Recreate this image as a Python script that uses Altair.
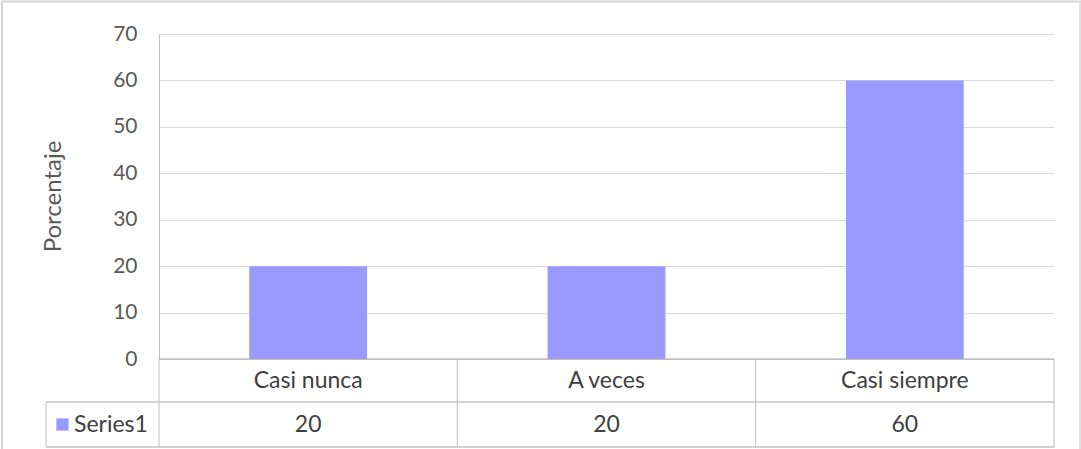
import altair as alt
import pandas as pd

# Survey responses (percentage per answer)
categories = ["Casi nunca", "A veces", "Casi siempre"]
values = [20, 20, 60]
series_name = "Series1"
y_ticks = [0, 10, 20, 30, 40, 50, 60, 70]
y_title = "Porcentaje"

BAR = "#9999FF"
GRID = "#D9D9D9"
LINE = "#A6A6A6"
VLINE = "#BDBDBD"
TEXT = "#404040"
TICK_TEXT = "#595959"
FONT = "Lato"
TABLE_SIZE = 23

W, H = 895, 325          # plot area
ROW1_MID, ROW2_TOP, ROW2_MID, TABLE_BOTTOM = 346.5, 368, 390.5, 413
LEGEND_LEFT = -113

df = pd.DataFrame({"cat": categories, "val": values})
one = pd.DataFrame({"k": [0]})

x_enc = alt.X("cat:N", sort=categories,
              scale=alt.Scale(paddingInner=0, paddingOuter=0), axis=None)

bars = alt.Chart(df).mark_bar(color=BAR, width=alt.RelativeBandSize(0.395)).encode(
    x=x_enc,
    y=alt.Y("val:Q", scale=alt.Scale(domain=[0, 70], nice=False),
            axis=alt.Axis(values=y_ticks, grid=True, gridColor=GRID, gridWidth=1,
                          domainColor=VLINE, domainWidth=1, ticks=False,
                          labelPadding=22, labelFontSize=21, labelColor=TICK_TEXT,
                          labelFont=FONT, title=None)),
)

# Data table: category row and value row
cat_text = alt.Chart(df).mark_text(fontSize=TABLE_SIZE, font=FONT, color=TEXT, baseline="middle").encode(
    x=x_enc, y=alt.value(ROW1_MID), text="cat:N")
val_text = alt.Chart(df).mark_text(fontSize=TABLE_SIZE, font=FONT, color=TEXT, baseline="middle").encode(
    x=x_enc, y=alt.value(ROW2_MID), text="val:Q")

# Column separators at band edges
sep_left = alt.Chart(df).mark_rule(color=VLINE, strokeWidth=1).encode(
    x=alt.X("cat:N", sort=categories, bandPosition=0,
            scale=alt.Scale(paddingInner=0, paddingOuter=0), axis=None),
    y=alt.value(H), y2=alt.value(TABLE_BOTTOM))
sep_right = alt.Chart(one).mark_rule(color=VLINE, strokeWidth=1).encode(
    x=alt.value(W), y=alt.value(H), y2=alt.value(TABLE_BOTTOM))
legend_left = alt.Chart(one).mark_rule(color=VLINE, strokeWidth=1).encode(
    x=alt.value(LEGEND_LEFT), y=alt.value(ROW2_TOP), y2=alt.value(TABLE_BOTTOM))

# Horizontal table lines
h_zero = alt.Chart(one).mark_rule(color=LINE, strokeWidth=1).encode(
    x=alt.value(0), x2=alt.value(W), y=alt.value(H))
h_mid = alt.Chart(one).mark_rule(color=LINE, strokeWidth=1).encode(
    x=alt.value(LEGEND_LEFT), x2=alt.value(W), y=alt.value(ROW2_TOP))
h_bot = alt.Chart(one).mark_rule(color=LINE, strokeWidth=1).encode(
    x=alt.value(LEGEND_LEFT), x2=alt.value(W), y=alt.value(TABLE_BOTTOM))

# Legend key inside the table
legend_key = alt.Chart(one).mark_square(color=BAR, opacity=1, size=150).encode(
    x=alt.value(-96.5), y=alt.value(ROW2_MID))
legend_text = alt.Chart(pd.DataFrame({"s": [series_name]})).mark_text(
    fontSize=TABLE_SIZE, font=FONT, color=TEXT, align="left", baseline="middle").encode(
    x=alt.value(-85), y=alt.value(ROW2_MID), text="s:N")

# Vertical axis title
title = alt.Chart(pd.DataFrame({"t": [y_title]})).mark_text(
    fontSize=24, font=FONT, color=TICK_TEXT, angle=270, align="center", baseline="middle").encode(
    x=alt.value(-105), y=alt.value(H / 2), text="t:N")

# Chart frame
frame_top = alt.Chart(one).mark_rule(color="#D4D4D4", strokeWidth=2).encode(
    x=alt.value(-157), x2=alt.value(925), y=alt.value(-32.5))
frame_left = alt.Chart(one).mark_rule(color="#D4D4D4", strokeWidth=2).encode(
    x=alt.value(-157), y=alt.value(-32.5), y2=alt.value(420))
frame_right = alt.Chart(one).mark_rule(color="#E2E2E2", strokeWidth=2).encode(
    x=alt.value(921), y=alt.value(-32.5), y2=alt.value(420))

chart = alt.layer(
    frame_top, frame_left, frame_right,
    bars, h_zero, h_mid, h_bot, sep_left, sep_right, legend_left,
    cat_text, val_text, legend_key, legend_text, title,
).properties(
    width=W, height=H,
    autosize=alt.AutoSizeParams(type="none"),
    padding={"left": 159, "top": 34, "right": 27, "bottom": 90},
    background="white",
).configure_view(stroke=None)

chart.save("out.html", embed_options={"renderer": "svg", "actions": False})
